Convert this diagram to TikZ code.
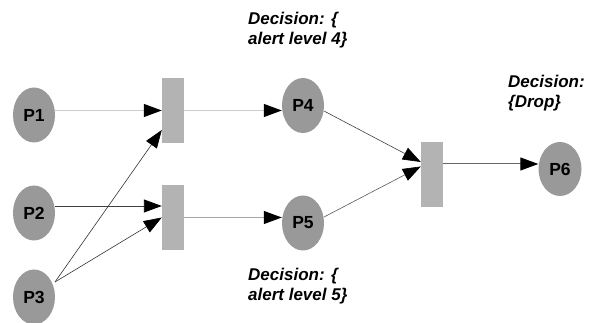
\documentclass[tikz,border=0pt]{standalone}
\usepackage{fontspec}
\setmainfont{Liberation Sans}
\usetikzlibrary{arrows.meta,shapes.geometric}
\definecolor{placegray}{HTML}{999999}
\definecolor{transgray}{HTML}{B3B3B3}
\begin{document}
\begin{tikzpicture}[x=1pt,y=1pt,
  place/.style={ellipse,fill=placegray,minimum width=42pt,minimum height=55pt,inner sep=0pt,
    font=\fontsize{17.5}{17.5}\selectfont\bfseries},
  trans/.style={rectangle,fill=transgray,minimum width=22pt,minimum height=65pt,inner sep=0pt},
  arc/.style={-{Triangle[length=18pt,width=13pt,color=black]}},
  note/.style={anchor=north west,align=left,inner sep=0pt,
    font=\fontsize{17}{20}\selectfont\bfseries\itshape}]
\useasboundingbox (0,0) rectangle (590,323);
\node[place] (P1) at (34,208) {P1};
\node[place] (P2) at (34,110) {P2};
\node[place] (P3) at (34,26) {P3};
\node[trans] (T1) at (173,212.5) {};
\node[trans] (T2) at (173,105.5) {};
\node[place] (P4) at (303,217.5) {P4};
\node[place] (P5) at (303,100) {P5};
\node[trans] (T3) at (432,148.5) {};
\node[place,minimum width=43pt,minimum height=54pt] (P6) at (560,154) {P6};
\node[note] (N4) at (248,311) {Decision: \{\\alert level 4\}};
\node[note] (N5) at (248,55) {Decision: \{\\alert level 5\}};
\node[note] (N6) at (508,248) {Decision:\\\{Drop\}};
\coordinate (t2in) at ([yshift=11.5pt]T2.west);
\coordinate (p3out) at ([shift={(21pt,15pt)}]P3.center);
\coordinate (t1low) at ([yshift=-19.5pt]T1.west);
\coordinate (p4out) at ([shift={(21pt,-5.5pt)}]P4.center);
\coordinate (p5out) at ([shift={(21pt,6pt)}]P5.center);
\coordinate (t3a) at ([yshift=12.5pt]T3.west);
\coordinate (t3b) at ([yshift=8pt]T3.west);
\coordinate (t3out) at ([yshift=10.5pt]T3.east);
\draw[arc,draw=black!20,line width=1.2pt] (T1.west -| P1.east) -- (T1.west);
\draw[arc,draw=black!75,line width=0.9pt] (t2in -| P2.east) -- (t2in);
\draw[arc,draw=black!80,line width=0.6pt] (p3out) -- (t1low);
\draw[arc,draw=black!80,line width=0.6pt] (p3out) -- (T2.west);
\draw[arc,draw=black!20,line width=1.2pt] (T1.east) -- (T1.east -| P4.west);
\draw[arc,draw=black!35,line width=1pt] (T2.east) -- (T2.east -| P5.west);
\draw[arc,draw=black!75,line width=0.6pt] (p4out) -- (t3a);
\draw[arc,draw=black!65,line width=0.6pt] (p5out) -- (t3b);
\draw[arc,draw=black!60,line width=1pt] (t3out) -- (t3out -| P6.west);
\end{tikzpicture}
\end{document}
